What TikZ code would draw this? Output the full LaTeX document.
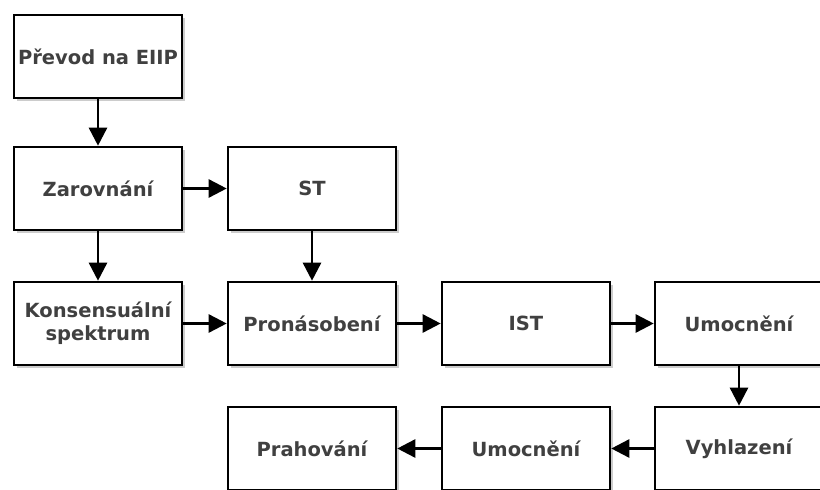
\documentclass[tikz,border=0pt]{standalone}
\usepackage{fontspec}
\setmainfont{DejaVu Sans}
\usepackage{tikz}
\usetikzlibrary{arrows.meta,shadows,positioning}
\definecolor{txtgray}{HTML}{404040}
\tikzset{
  block/.style={draw=black, line width=2.6pt, fill=white,
    minimum width=168pt, minimum height=83pt, inner sep=2pt,
    align=center, text=txtgray,
    font=\fontsize{19.5}{23}\selectfont\bfseries,
    drop shadow={opacity=0.4, shadow xshift=3pt, shadow yshift=-3pt}},
  flow/.style={line width=2.6pt, -{Triangle[length=18pt,width=18pt]}}
}

\begin{document}
\begin{tikzpicture}[x=1pt,y=-1pt]
  \useasboundingbox (0,0) rectangle (820,490);
  % first column
  \node[block] (eiip) at (98,56.5) {Převod na EIIP};
  \node[block] (zar) at (98,188.5) {Zarovnání};
  \node[block] (kons) at (98,323.5) {Konsensuální\\spektrum};
  % second column
  \node[block] (st) at (312,188.5) {ST};
  \node[block] (pron) at (312,323.5) {Pronásobení};
  \node[block] (prah) at (312,448.5) {Prahování};
  % third and fourth column
  \node[block] (ist) at (526,323.5) {IST};
  \node[block] (umoc1) at (739,323.5) {Umocnění};
  \node[block] (vyhl) at (739,448.5) {Vyhlazení};
  \node[block] (umoc2) at (526,448.5) {Umocnění};

  \draw[flow] (eiip) -- (zar);
  \draw[flow] (zar) -- (st);
  \draw[flow] (zar) -- (kons);
  \draw[flow] (st) -- (pron);
  \draw[flow] (kons) -- (pron);
  \draw[flow] (pron) -- (ist);
  \draw[flow] (ist) -- (umoc1);
  \draw[flow] (umoc1) -- (vyhl);
  \draw[flow] (vyhl) -- (umoc2);
  \draw[flow] (umoc2) -- (prah);
\end{tikzpicture}
\end{document}
